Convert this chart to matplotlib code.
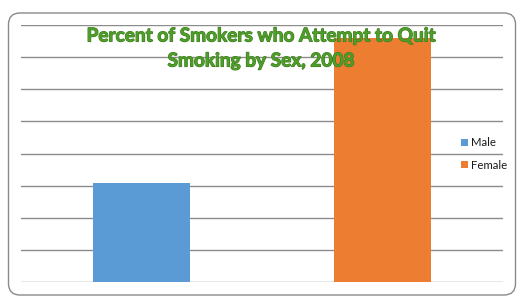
import matplotlib
matplotlib.use("Agg")
import matplotlib.pyplot as plt
import matplotlib.patheffects as pe
from matplotlib.patches import FancyBboxPatch, Patch

categories = ["Male", "Female"]
values = [31, 76]
y_max = 80
grid_step = 10
title_lines = ["Percent of Smokers who Attempt to Quit", "Smoking by Sex, 2008"]

C = {"male": "#5b9bd5", "female": "#ed7d31", "grid": "#8c8c8c",
     "border": "#8a8a8a", "title": "#4f9d2a", "title_edge": "#3a7a1c",
     "text": "#1a1a1a"}

W, H = 520, 302
fig = plt.figure(figsize=(W / 100, H / 100), dpi=100)
fig.patch.set_facecolor("white")

# rounded chart border
fig.patches.append(FancyBboxPatch(
    (8.5 / W, 1 - 295 / H), 507 / W, 282 / H,
    boxstyle="round,pad=0,rounding_size=0.022",
    transform=fig.transFigure, facecolor="none", zorder=-1,
    edgecolor=C["border"], linewidth=1.0, mutation_aspect=W / H))

ax = fig.add_axes([21 / W, 1 - 282.3 / H, 482 / W, 257.3 / H])
ax.set_facecolor("none")
x = range(len(categories))
bars = ax.bar(x, values, width=0.4,
              color=[C["male"], C["female"]], zorder=3)
ax.set_xlim(-0.5, len(categories) - 0.5)
ax.set_ylim(0, y_max)
for g in range(0, y_max + 1, grid_step):
    ax.axhline(g, color=C["grid"], linewidth=1.0, zorder=1)
ax.set_xticks([])
ax.set_yticks([])
for s in ax.spines.values():
    s.set_visible(False)

for i, (line, yb) in enumerate(zip(title_lines, (41.5, 66.5))):
    fig.text(261 / W, 1 - yb / H, line, ha="center", va="baseline",
             fontsize=13.7, fontweight="bold", family=["Lato", "DejaVu Sans"],
             color=C["title"], zorder=5,
             path_effects=[pe.withStroke(linewidth=0.8,
                                         foreground=C["title_edge"])])

handles = [Patch(facecolor=c) for c in (C["male"], C["female"])]
leg = fig.legend(handles, categories, loc="center left",
                 bbox_to_anchor=(455 / W, 1 - 154 / H), frameon=False,
                 handlelength=0.65, handleheight=0.65, handletextpad=0.25,
                 labelspacing=1.0, borderpad=0,
                 prop={"family": ["Lato", "DejaVu Sans"], "size": 8.2})
for t in leg.get_texts():
    t.set_color(C["text"])

fig.savefig("out.png", dpi=100, facecolor="white")
